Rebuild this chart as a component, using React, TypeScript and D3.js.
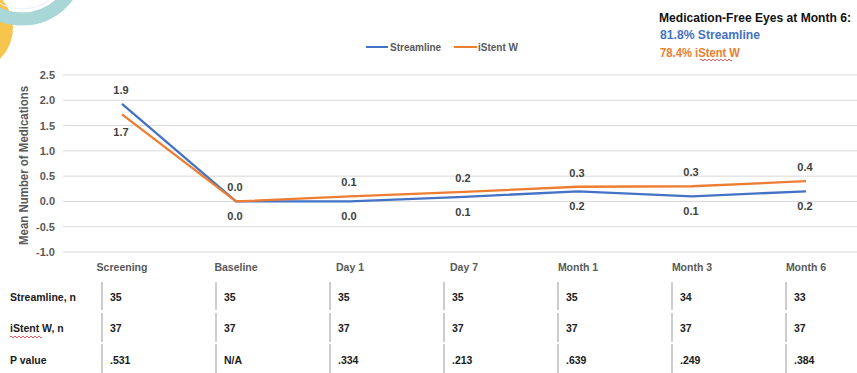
import React from "react";
import * as d3 from "d3";

const categories = ["Screening", "Baseline", "Day 1", "Day 7", "Month 1", "Month 3", "Month 6"];
const streamlineValues = [1.93, 0.0, 0.0, 0.09, 0.2, 0.1, 0.2];
const istentValues = [1.72, 0.0, 0.1, 0.19, 0.29, 0.3, 0.4];
const yTicks = [2.5, 2.0, 1.5, 1.0, 0.5, 0.0, -0.5, -1.0];
const streamlineN = ["35", "35", "35", "35", "35", "34", "33"];
const istentN = ["37", "37", "37", "37", "37", "37", "37"];
const pValues = [".531", "N/A", ".334", ".213", ".639", ".249", ".384"];
const rowLabels = ["Streamline, n", "iStent W, n", "P value"];
const seriesNames = ["Streamline", "iStent W"];

const W = 857;
const H = 373;
const BLUE = "#4472C4";
const ORANGE = "#ED7D31";
const FONT = "'Liberation Sans', Arial, sans-serif";

function squiggle(x0: number, x1: number, y: number) {
  let d = `M${x0},${y}`;
  let up = true;
  for (let x = x0; x < x1; x += 2) {
    d += ` L${x + 1},${y + (up ? -1 : 1)} L${x + 2},${y}`;
    up = !up;
  }
  return d;
}

export default function App() {
  const x = d3.scaleBand<string>().domain(categories).range([65, 863]).padding(0);
  const cx = (c: string) => (x(c) as number) + x.bandwidth() / 2;
  const y = d3.scaleLinear().domain([-1, 2.5]).range([252, 75]);

  const line = d3
    .line<number>()
    .x((_, i) => cx(categories[i]))
    .y((d) => y(d));

  const rowsY = [301, 332, 364];
  const barY: [number, number][] = [
    [282, 310],
    [313, 342],
    [344, 373],
  ];
  const tableRows = [streamlineN, istentN, pValues];

  return (
    <svg
      width={W}
      height={H}
      style={{ position: "absolute", left: 0, top: 0, background: "#fff" }}
      fontFamily={FONT}
    >
      <rect x={0} y={0} width={W} height={H} fill="#fff" />
      {/* decoration */}
      <circle cx={-30} cy={28} r={43} fill="#F6C54E" />
      <circle cx={22} cy={-38} r={57} fill="none" stroke="#A9D6D6" strokeWidth={13} />
      <circle cx={22} cy={-38} r={47} fill="none" stroke="#E6F2F2" strokeWidth={1} />

      {/* grid */}
      {yTicks.map((t) => (
        <g key={t}>
          <line x1={63} x2={W} y1={y(t)} y2={y(t)} stroke="#D9D9D9" strokeWidth={1} />
          <text x={55} y={y(t) + 4} textAnchor="end" fontSize={11} fontWeight="bold" fill="#595959">
            {t.toFixed(1)}
          </text>
        </g>
      ))}

      <text
        transform={`translate(28,${(y(2.5) + y(-1)) / 2 + 2}) rotate(-90)`}
        textAnchor="middle"
        fontSize={12}
        fontWeight="bold"
        fill="#595959"
        textLength={159}
        lengthAdjust="spacingAndGlyphs"
      >
        Mean Number of Medications
      </text>

      {/* category labels */}
      {categories.map((c) => (
        <text key={c} x={cx(c)} y={271} textAnchor="middle" fontSize={10.5} fontWeight="bold" fill="#595959">
          {c}
        </text>
      ))}

      {/* lines */}
      <path d={line(streamlineValues) || ""} fill="none" stroke={BLUE} strokeWidth={2.3} />
      <path d={line(istentValues) || ""} fill="none" stroke={ORANGE} strokeWidth={2.3} />

      {/* data labels */}
      {categories.map((c, i) => {
        const b = streamlineValues[i];
        const o = istentValues[i];
        const blueAbove = b > o;
        const top = Math.min(y(b), y(o));
        const bot = Math.max(y(b), y(o));
        return (
          <g key={c} fontSize={11} fontWeight="bold" fill="#404040" textAnchor="middle">
            <text x={cx(c) - 1} y={blueAbove ? top - 10 : bot + 19}>{b.toFixed(1)}</text>
            <text x={cx(c) - 1} y={blueAbove ? bot + 22 : top - 10}>{o.toFixed(1)}</text>
          </g>
        );
      })}

      {/* legend */}
      <line x1={366} x2={388} y1={47} y2={47} stroke={BLUE} strokeWidth={2} />
      <text x={390} y={51} fontSize={10} fontWeight="bold" fill="#595959">{seriesNames[0]}</text>
      <line x1={454} x2={477} y1={47} y2={47} stroke={ORANGE} strokeWidth={2} />
      <text x={478} y={51} fontSize={10} fontWeight="bold" fill="#595959">{seriesNames[1]}</text>

      {/* top-right annotation */}
      <text x={659} y={22} fontSize={12.5} fontWeight="bold" fill="#111" textLength={192} lengthAdjust="spacingAndGlyphs">
        Medication-Free Eyes at Month 6:
      </text>
      <text x={660} y={39} fontSize={12.5} fontWeight="bold" fill={BLUE} textLength={100} lengthAdjust="spacingAndGlyphs">
        81.8% Streamline
      </text>
      <text x={660} y={57} fontSize={12.5} fontWeight="bold" fill={ORANGE} textLength={80} lengthAdjust="spacingAndGlyphs">
        78.4% iStent W
      </text>
      <path d={squiggle(700, 731, 60)} fill="none" stroke="#E0303A" strokeWidth={0.8} />

      {/* table */}
      {rowLabels.map((r, ri) => (
        <text key={r} x={10} y={rowsY[ri]} fontSize={10.5} fontWeight="bold" fill="#1a1a1a">
          {r}
        </text>
      ))}
      <path d={squiggle(10, 41, 337)} fill="none" stroke="#E0303A" strokeWidth={0.8} />
      {categories.map((c) => (
        <g key={c}>
          {barY.map(([a, b], k) => (
            <line key={k} x1={cx(c) - 20} x2={cx(c) - 20} y1={a} y2={b} stroke="#BDBDBD" strokeWidth={1.5} />
          ))}
        </g>
      ))}
      {tableRows.map((row, ri) =>
        row.map((v, i) => (
          <text key={`${ri}-${i}`} x={cx(categories[i]) - 12} y={rowsY[ri]} fontSize={10.5} fontWeight="bold" fill="#1a1a1a">
            {v}
          </text>
        ))
      )}
    </svg>
  );
}
